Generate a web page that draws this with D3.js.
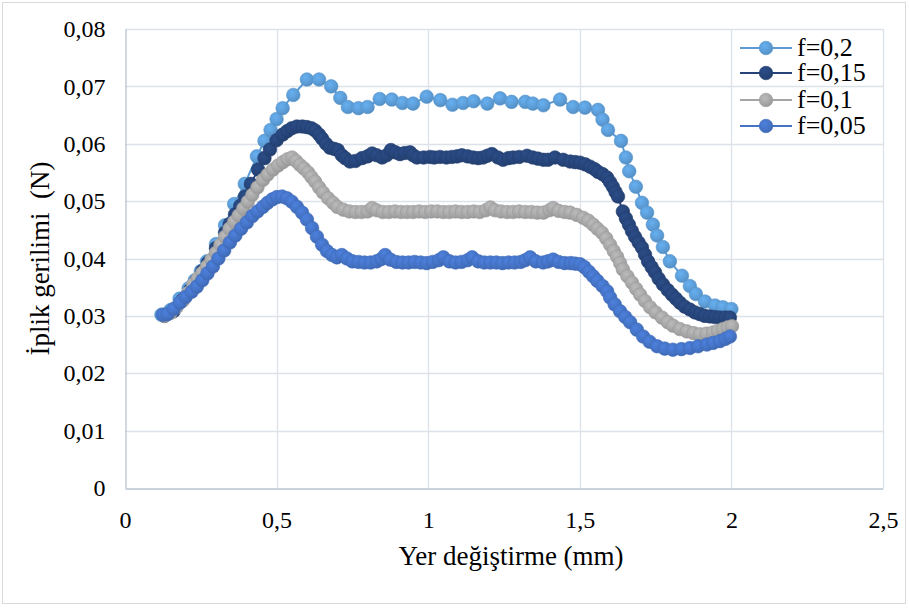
<!DOCTYPE html>
<html><head><meta charset="utf-8">
<script src="https://cdn.jsdelivr.net/npm/d3@7"></script>
<style>html,body{margin:0;padding:0;background:#fff;}svg{display:block;} text{font-family:"Liberation Serif","Times New Roman",serif;}</style>
</head><body>
<svg id="chart" width="909" height="608"></svg>
<script>
// ---------- DATA ----------
const seriesNames = ["f=0,2", "f=0,15", "f=0,1", "f=0,05"];
const seriesColors = ["#5B9BD5", "#264478", "#A5A5A5", "#4472C4"];
const xTicks = [0, 0.5, 1, 1.5, 2, 2.5];
const yTicks = [0, 0.01, 0.02, 0.03, 0.04, 0.05, 0.06, 0.07, 0.08];

const x_f02 = [0.12,0.15,0.18,0.21,0.23,0.25,0.27,0.30,0.33,0.36,0.395,0.435,0.46,0.48,0.50,0.52,0.555,0.60,0.64,0.68,0.71,0.735,0.77,0.80,0.84,0.88,0.915,0.95,0.995,1.04,1.08,1.115,1.15,1.195,1.237,1.275,1.32,1.345,1.38,1.435,1.478,1.517,1.56,1.575,1.593,1.636,1.652,1.663,1.685,1.705,1.722,1.741,1.755,1.774,1.797,1.837,1.863,1.883,1.913,1.946,1.972,2.0];
const y_f02 = [0.0302,0.0310,0.0330,0.0348,0.0362,0.0378,0.0395,0.0425,0.0458,0.0495,0.0530,0.0578,0.0605,0.0624,0.0643,0.0662,0.0685,0.0712,0.0712,0.0700,0.0680,0.0664,0.0662,0.0664,0.0678,0.0677,0.0671,0.0670,0.0682,0.0676,0.0668,0.0671,0.0674,0.0670,0.0679,0.0673,0.0673,0.0670,0.0667,0.0677,0.0664,0.0663,0.0659,0.0642,0.0624,0.0605,0.0576,0.0552,0.0525,0.0497,0.0480,0.0459,0.0440,0.0420,0.0395,0.0370,0.0352,0.0338,0.0325,0.0318,0.0315,0.0312];

const x_f015 = [0.13,0.16,0.19,0.215,0.237,0.255,0.274,0.30,0.33,0.345,0.363,0.38,0.396,0.415,0.439,0.46,0.478,0.50,0.52,0.535,0.55,0.567,0.585,0.60,0.615,0.627,0.64,0.65,0.663,0.676,0.69,0.702,0.715,0.726,0.742,0.76,0.782,0.80,0.815,0.83,0.848,0.863,0.877,0.892,0.907,0.923,0.94,0.95,0.963,0.985,1.006,1.02,1.039,1.06,1.078,1.095,1.111,1.13,1.148,1.165,1.181,1.195,1.21,1.23,1.247,1.265,1.28,1.30,1.326,1.345,1.362,1.38,1.395,1.418,1.445,1.468,1.485,1.501,1.518,1.534,1.548,1.56,1.575,1.59,1.60,1.609,1.618,1.626,1.642,1.652,1.662,1.672,1.682,1.694,1.705,1.715,1.725,1.737,1.748,1.76,1.774,1.79,1.804,1.817,1.83,1.846,1.863,1.88,1.896,1.912,1.929,1.945,1.962,1.98,1.995];
const y_f015 = [0.0300,0.0308,0.0328,0.0345,0.0362,0.0378,0.0393,0.0418,0.0445,0.0460,0.0477,0.0492,0.0508,0.0530,0.0555,0.0575,0.0590,0.0606,0.0616,0.0622,0.0627,0.0630,0.0630,0.0629,0.0627,0.0623,0.0616,0.0609,0.0600,0.0593,0.0591,0.0589,0.0580,0.0575,0.0569,0.0570,0.0575,0.0578,0.0583,0.0580,0.0576,0.0580,0.0589,0.0585,0.0582,0.0584,0.0585,0.0580,0.0576,0.0576,0.0577,0.0576,0.0577,0.0576,0.0577,0.0578,0.0580,0.0578,0.0576,0.0575,0.0576,0.0579,0.0582,0.0576,0.0572,0.0575,0.0576,0.0577,0.0579,0.0576,0.0574,0.0572,0.0572,0.0576,0.0572,0.0569,0.0568,0.0567,0.0564,0.0560,0.0556,0.0551,0.0547,0.0541,0.0533,0.0525,0.0516,0.0508,0.0482,0.0470,0.0459,0.0448,0.0438,0.0428,0.0419,0.0407,0.0395,0.0385,0.0376,0.0365,0.0355,0.0345,0.0337,0.0330,0.0323,0.0316,0.0311,0.0306,0.0303,0.0300,0.0299,0.0298,0.0297,0.0297,0.0297];

const x_f01 = [0.13,0.15,0.17,0.19,0.208,0.225,0.24,0.255,0.27,0.285,0.30,0.315,0.33,0.345,0.36,0.375,0.39,0.405,0.42,0.437,0.455,0.47,0.488,0.505,0.521,0.536,0.551,0.564,0.577,0.59,0.604,0.615,0.627,0.64,0.653,0.67,0.686,0.70,0.72,0.74,0.76,0.78,0.80,0.815,0.83,0.85,0.87,0.89,0.91,0.93,0.95,0.97,0.99,1.01,1.03,1.05,1.07,1.09,1.11,1.13,1.15,1.17,1.19,1.205,1.22,1.24,1.26,1.28,1.30,1.32,1.34,1.36,1.38,1.40,1.412,1.43,1.45,1.468,1.49,1.511,1.528,1.544,1.558,1.573,1.587,1.60,1.612,1.623,1.633,1.642,1.657,1.672,1.686,1.699,1.715,1.732,1.75,1.771,1.79,1.807,1.83,1.853,1.875,1.896,1.918,1.939,1.956,1.972,1.988,2.002];
const y_f01 = [0.0300,0.0305,0.0315,0.0326,0.0340,0.0355,0.0365,0.0375,0.0386,0.0398,0.0410,0.0424,0.0438,0.0452,0.0464,0.0475,0.0487,0.0499,0.0511,0.0524,0.0537,0.0546,0.0555,0.0562,0.0568,0.0573,0.0576,0.0570,0.0563,0.0557,0.0550,0.0542,0.0534,0.0524,0.0515,0.0505,0.0497,0.0490,0.0485,0.0482,0.0481,0.0481,0.0482,0.0488,0.0484,0.0481,0.0481,0.0482,0.0481,0.0481,0.0481,0.0482,0.0481,0.0482,0.0482,0.0481,0.0481,0.0482,0.0481,0.0481,0.0482,0.0481,0.0484,0.0489,0.0484,0.0482,0.0481,0.0481,0.0482,0.0481,0.0481,0.0480,0.0480,0.0484,0.0488,0.0483,0.0481,0.0480,0.0476,0.0471,0.0466,0.0459,0.0452,0.0445,0.0435,0.0424,0.0413,0.0403,0.0392,0.0381,0.0369,0.0358,0.0347,0.0337,0.0326,0.0315,0.0306,0.0297,0.0289,0.0283,0.0277,0.0273,0.0270,0.0268,0.0269,0.0271,0.0274,0.0277,0.0280,0.0282];

const x_f005 = [0.125,0.14,0.16,0.181,0.20,0.22,0.237,0.255,0.272,0.29,0.308,0.327,0.346,0.364,0.383,0.402,0.42,0.437,0.455,0.47,0.486,0.501,0.518,0.534,0.55,0.567,0.584,0.60,0.617,0.633,0.65,0.666,0.683,0.699,0.715,0.732,0.75,0.77,0.79,0.81,0.83,0.845,0.858,0.875,0.895,0.915,0.935,0.955,0.975,0.995,1.015,1.035,1.05,1.07,1.09,1.11,1.13,1.145,1.165,1.185,1.205,1.225,1.245,1.265,1.285,1.305,1.32,1.336,1.355,1.379,1.395,1.412,1.43,1.45,1.47,1.485,1.501,1.515,1.53,1.544,1.558,1.575,1.59,1.60,1.615,1.633,1.65,1.666,1.688,1.709,1.73,1.755,1.78,1.807,1.835,1.863,1.89,1.919,1.94,1.962,1.98,1.995];
const y_f005 = [0.0302,0.0303,0.0312,0.0323,0.0333,0.0342,0.0351,0.0362,0.0374,0.0386,0.0400,0.0414,0.0428,0.0440,0.0452,0.0463,0.0474,0.0482,0.0490,0.0497,0.0503,0.0507,0.0508,0.0505,0.0499,0.0490,0.0480,0.0468,0.0453,0.0438,0.0424,0.0413,0.0406,0.0402,0.0406,0.0400,0.0395,0.0394,0.0393,0.0393,0.0395,0.0399,0.0406,0.0398,0.0394,0.0393,0.0393,0.0394,0.0393,0.0392,0.0394,0.0397,0.0402,0.0395,0.0393,0.0394,0.0397,0.0402,0.0395,0.0393,0.0393,0.0393,0.0392,0.0393,0.0393,0.0394,0.0397,0.0402,0.0395,0.0393,0.0395,0.0398,0.0394,0.0392,0.0392,0.0391,0.0390,0.0385,0.0377,0.0369,0.0361,0.0352,0.0343,0.0332,0.0320,0.0308,0.0298,0.0289,0.0276,0.0264,0.0255,0.0247,0.0243,0.0241,0.0242,0.0244,0.0247,0.0250,0.0253,0.0256,0.0260,0.0264];

const xTitle = "Yer değiştirme (mm)";
const yTitle = "İplik gerilimi  (N)";

// ---------- CHART ----------
(function () {
const series = [
  {name: seriesNames[0], color: seriesColors[0], xs: x_f02,  ys: y_f02},
  {name: seriesNames[1], color: seriesColors[1], xs: x_f015, ys: y_f015},
  {name: seriesNames[2], color: seriesColors[2], xs: x_f01,  ys: y_f01},
  {name: seriesNames[3], color: seriesColors[3], xs: x_f005, ys: y_f005}
].map(s => ({...s, pts: s.xs.map((xv, i) => [xv, s.ys[i]])}));

const svg = d3.select("#chart");
const FONT = "Liberation Serif";
const pL = 125, pR = 883, pT = 29, pB = 488;

const x = d3.scaleLinear().domain([0, 2.5]).range([pL, pR]);
const y = d3.scaleLinear().domain([0, 0.08]).range([pB, pT]);
const loc = d3.formatLocale({decimal: ",", thousands: ".", grouping: [3], currency: ["", ""]});
const fmt = loc.format(".2~f");

// outer border
svg.append("rect").attr("x", 2.5).attr("y", 2.5).attr("width", 903).attr("height", 601)
  .attr("fill", "#fff").attr("stroke", "#d9d9d9").attr("stroke-width", 1);

// gradients
const defs = svg.append("defs");
series.forEach((s, i) => {
  const c = d3.color(s.color);
  const g = defs.append("radialGradient").attr("id", "g" + i)
    .attr("cx", "40%").attr("cy", "35%").attr("r", "65%");
  g.append("stop").attr("offset", "0%").attr("stop-color", c.brighter(0.35));
  g.append("stop").attr("offset", "70%").attr("stop-color", c);
  g.append("stop").attr("offset", "100%").attr("stop-color", c.darker(0.25));
});

// grid
const grid = svg.append("g");
yTicks.filter(t => t > 0).forEach(t => {
  grid.append("line").attr("x1", pL).attr("x2", pR)
    .attr("y1", Math.round(y(t)) + 0.5).attr("y2", Math.round(y(t)) + 0.5)
    .attr("stroke", "#dde1e8").attr("stroke-width", 1.3);
});
xTicks.filter(t => t > 0).forEach(t => {
  grid.append("line").attr("y1", pT).attr("y2", pB)
    .attr("x1", Math.round(x(t)) + 0.5).attr("x2", Math.round(x(t)) + 0.5)
    .attr("stroke", "#dde1e8").attr("stroke-width", 1.3);
});

// axes
const xAxis = svg.append("g").attr("transform", `translate(0,${pB + 0.5})`)
  .call(d3.axisBottom(x).tickValues(xTicks).tickFormat(fmt).tickSize(0).tickPadding(22));
const yAxis = svg.append("g").attr("transform", `translate(${pL + 0.5},0)`)
  .call(d3.axisLeft(y).tickValues(yTicks).tickFormat(fmt).tickSize(0).tickPadding(20));
[xAxis, yAxis].forEach(a => {
  a.select(".domain").attr("stroke", "#b9c3d1").attr("stroke-width", 1.3);
  a.selectAll("text").attr("font-family", FONT).attr("font-size", 24).attr("fill", "#000");
});

// series
const line = d3.line().x(d => x(d[0])).y(d => y(d[1]));
series.forEach((s, i) => {
  const g = svg.append("g");
  g.append("path").attr("d", line(s.pts)).attr("fill", "none")
    .attr("stroke", s.color).attr("stroke-width", 2);
  g.selectAll("circle").data(s.pts).join("circle")
    .attr("cx", d => x(d[0])).attr("cy", d => y(d[1])).attr("r", 6.8)
    .attr("fill", `url(#g${i})`).attr("stroke", d3.color(s.color).darker(0.15)).attr("stroke-width", 0.6);
});

// titles
svg.append("text").attr("x", 511).attr("y", 565).attr("text-anchor", "middle")
  .attr("font-family", FONT).attr("font-size", 27).text(xTitle);
svg.append("text").attr("transform", `translate(49,${(pT + pB) / 2}) rotate(-90)`)
  .attr("text-anchor", "middle").attr("font-family", FONT).attr("font-size", 27)
  .style("white-space", "pre").text(yTitle);

// legend
const legend = svg.append("g");
series.forEach((s, i) => {
  const ly = [48, 73, 100, 126][i];
  const lg = legend.append("g");
  lg.append("line").attr("x1", 740).attr("x2", 792).attr("y1", ly).attr("y2", ly)
    .attr("stroke", s.color).attr("stroke-width", 2);
  lg.append("circle").attr("cx", 766).attr("cy", ly).attr("r", 6.8)
    .attr("fill", `url(#g${i})`).attr("stroke", d3.color(s.color).darker(0.15)).attr("stroke-width", 0.6);
  lg.append("text").attr("x", 797).attr("y", ly + 8).attr("font-family", FONT)
    .attr("font-size", 26).text(s.name);
});
})();
</script>
</body></html>
